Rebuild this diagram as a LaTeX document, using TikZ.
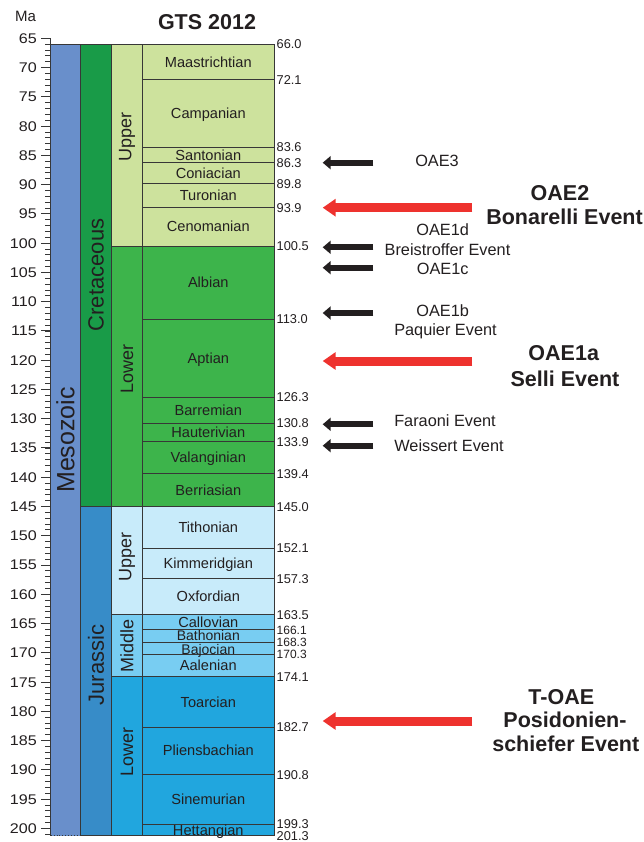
\documentclass[tikz,border=0pt]{standalone}
\usepackage{fontspec}
\setmainfont{Liberation Sans}
\newfontfamily\widefont[FakeStretch=1.15]{Liberation Sans}
\usetikzlibrary{arrows.meta}
\definecolor{txt}{RGB}{35,31,32}
\definecolor{lin}{RGB}{55,55,55}
\definecolor{meso}{RGB}{105,143,203}
\definecolor{cret}{RGB}{25,155,72}
\definecolor{uK}{RGB}{205,226,157}
\definecolor{lK}{RGB}{61,180,75}
\definecolor{jur}{RGB}{55,140,200}
\definecolor{uJ}{RGB}{200,235,250}
\definecolor{mJ}{RGB}{120,205,242}
\definecolor{lJ}{RGB}{33,166,222}
\definecolor{oaered}{RGB}{238,50,46}
\newcommand{\yy}[1]{(38.3+(#1-65)*5.852)}
\begin{document}
\begin{tikzpicture}[x=1pt,y=-1pt,
  bline/.style={draw=lin,line width=0.9pt},
  stage/.style={text=txt,inner sep=0pt,font=\fontsize{14.6}{17}\selectfont,text height=10.4pt,text depth=0pt},
  smallstage/.style={text=txt,inner sep=0pt,font=\fontsize{14}{16}\selectfont,text height=10pt,text depth=0pt},
  rlab/.style={text=txt,inner sep=0pt,anchor=west,font=\fontsize{12.8}{15}\selectfont,text height=9.2pt,text depth=0pt},
  srlab/.style={text=txt,inner sep=0pt,anchor=west,font=\fontsize{12}{13}\selectfont,text height=8.6pt,text depth=0pt},
  llab/.style={text=txt,inner sep=0pt,anchor=east,font=\widefont\fontsize{14}{16}\selectfont,text height=10pt,text depth=0pt},
  evt/.style={text=txt,inner sep=0pt,font=\fontsize{16.3}{19}\selectfont,text height=11.7pt,text depth=0pt},
  bigevt/.style={text=txt,inner sep=0pt,font=\bfseries\fontsize{21.5}{25}\selectfont,text height=15.4pt,text depth=0pt},
  vlab/.style={text=txt,inner sep=0pt,rotate=90},
  blackarrow/.style={draw=txt,line width=6pt,-{Triangle[length=8pt,width=13pt]}},
  redarrow/.style={draw=oaered,line width=9pt,-{Triangle[length=13pt,width=17pt]}}
]
\useasboundingbox (0,0) rectangle (644,842);
\fill[white] (0,0) rectangle (644,842);
% fills
\fill[meso] (50.7,{\yy{66}}) rectangle (80.3,{\yy{201.3}});
\fill[cret] (80.3,{\yy{66}}) rectangle (111.7,{\yy{145}});
\fill[jur] (80.3,{\yy{145}}) rectangle (111.7,{\yy{201.3}});
\fill[uK] (111.7,{\yy{66}}) rectangle (274.3,{\yy{100.5}});
\fill[lK] (111.7,{\yy{100.5}}) rectangle (274.3,{\yy{145}});
\fill[uJ] (111.7,{\yy{145}}) rectangle (274.3,{\yy{163.5}});
\fill[mJ] (111.7,{\yy{163.5}}) rectangle (274.3,{\yy{174.1}});
\fill[lJ] (111.7,{\yy{174.1}}) rectangle (274.3,{\yy{201.3}});
% stage boundaries
\foreach \m in {72.1,83.6,86.3,89.8,93.9,113.0,126.3,130.8,133.9,139.4,152.1,157.3,166.1,168.3,170.3,182.7,190.8,199.3}
  \draw[bline] (142.3,{\yy{\m}}) -- (274.3,{\yy{\m}});
\foreach \m in {100.5,163.5,174.1}
  \draw[bline] (111.7,{\yy{\m}}) -- (274.3,{\yy{\m}});
\draw[bline] (80.3,{\yy{145}}) -- (274.3,{\yy{145}});
\draw[bline] (50.7,{\yy{66}}) -- (274.3,{\yy{66}});
\draw[bline] (80.3,{\yy{201.3}}) -- (274.3,{\yy{201.3}});
\draw[bline,dotted] (50.7,{\yy{201.3}}) -- (80.3,{\yy{201.3}});
\foreach \x in {80.3,111.7,142.3,274.3}
  \draw[bline] (\x,{\yy{66}}) -- (\x,{\yy{201.3}});
% axis
\draw[bline] (50.7,{\yy{65}}) -- (50.7,{\yy{201.3}});
\foreach \m in {65,...,201}
  \draw[draw=lin,line width=0.8pt] (45,{\yy{\m}}) -- (50.7,{\yy{\m}});
\foreach \m in {65,70,...,200}{
  \draw[draw=lin,line width=0.9pt] (41,{\yy{\m}}) -- (50.7,{\yy{\m}});
  \node[llab] (t\m) at (37,{\yy{\m}}) {\m};
}
% titles
\node[text=txt,inner sep=0pt,font=\fontsize{15}{17}\selectfont] (ma) at (25.5,16.7) {Ma};
\node[text=txt,inner sep=0pt,font=\bfseries\fontsize{21.5}{25}\selectfont,text height=15.4pt,text depth=0pt] (gts) at (207,21.7) {GTS 2012};
% stage labels
\foreach \n/\a/\b in {Maastrichtian/66.0/72.1,Campanian/72.1/83.6,Santonian/83.6/86.3,Coniacian/86.3/89.8,Turonian/89.8/93.9,Cenomanian/93.9/100.5,Albian/100.5/113.0,Aptian/113.0/126.3,Barremian/126.3/130.8,Hauterivian/130.8/133.9,Valanginian/133.9/139.4,Berriasian/139.4/145.0,Tithonian/145.0/152.1,Kimmeridgian/152.1/157.3,Oxfordian/157.3/163.5,Callovian/163.5/166.1,Aalenian/170.3/174.1,Toarcian/174.1/182.7,Pliensbachian/182.7/190.8,Sinemurian/190.8/199.3,Hettangian/199.3/201.3}
  \node[stage] (s-\n) at (208.3,{\yy{(\a+\b)/2}}) {\n};
\node[smallstage] (s-Bathonian) at (208.3,635.2) {Bathonian};
\node[smallstage] (s-Bajocian) at (208.3,649.2) {Bajocian};
% right ages
\foreach \m in {66.0,72.1,83.6,86.3,89.8,93.9,100.5,113.0,126.3,130.8,133.9,139.4,145.0,152.1,157.3,163.5,174.1,182.7,190.8,199.3,201.3}
  \node[rlab] (r\m) at (276.5,{\yy{\m}}) {\m};
\node[srlab] (r166) at (276.5,630.2) {166.1};
\node[srlab] (r168) at (276.5,642.2) {168.3};
\node[srlab] (r170) at (276.5,654.2) {170.3};
% vertical labels
\node[vlab,font=\fontsize{25}{28}\selectfont] (meso) at (65.5,440) {Mesozoic};
\node[vlab,font=\fontsize{22}{25}\selectfont] (cret) at (96,275) {Cretaceous};
\node[vlab,font=\fontsize{22}{25}\selectfont] (jur) at (96,665) {Jurassic};
\node[vlab,font=\fontsize{18}{20}\selectfont] (uk) at (127,137) {Upper};
\node[vlab,font=\fontsize{18}{20}\selectfont] (lk) at (127,369) {Lower};
\node[vlab,font=\fontsize{18}{20}\selectfont] (uj) at (127,557) {Upper};
\node[vlab,font=\fontsize{18}{20}\selectfont] (mj) at (127,646) {Middle};
\node[vlab,font=\fontsize{18}{20}\selectfont] (lj) at (127,752) {Lower};
% arrows
\foreach \i/\y in {1/162.7,2/247.3,3/267.7,4/313,5/424.3,6/445.7}{
  \coordinate (bs\i) at (373.3,\y);
  \coordinate (be\i) at (322.7,\y);
  \draw[blackarrow] (bs\i) -- (be\i);
}
\foreach \i/\y in {1/207.7,2/361,3/721}{
  \coordinate (rs\i) at (472.3,\y);
  \coordinate (re\i) at (322.7,\y);
  \draw[redarrow] (rs\i) -- (re\i);
}
% event labels
\node[evt] (oae3) at (437,160.7) {OAE3};
\node[evt] (oae1d) at (442.7,230) {OAE1d};
\node[evt] (breis) at (447.5,249.3) {Breistroffer Event};
\node[evt] (oae1c) at (442.7,269) {OAE1c};
\node[evt] (oae1b) at (442.7,311) {OAE1b};
\node[evt] (paq) at (445.5,330) {Paquier Event};
\node[evt] (far) at (445,421) {Faraoni Event};
\node[evt] (weis) at (449,446) {Weissert Event};
\node[bigevt] (oae2) at (560,193.3) {OAE2};
\node[bigevt] (bon) at (564.5,217.3) {Bonarelli Event};
\node[bigevt] (oae1a) at (563.7,352.7) {OAE1a};
\node[bigevt] (selli) at (565,378.3) {Selli Event};
\node[bigevt] (toae) at (561.3,696.7) {T-OAE};
\node[bigevt] (posi) at (565,720) {Posidonien-};
\node[bigevt] (schi) at (565.8,744) {schiefer Event};
\end{tikzpicture}
\end{document}
